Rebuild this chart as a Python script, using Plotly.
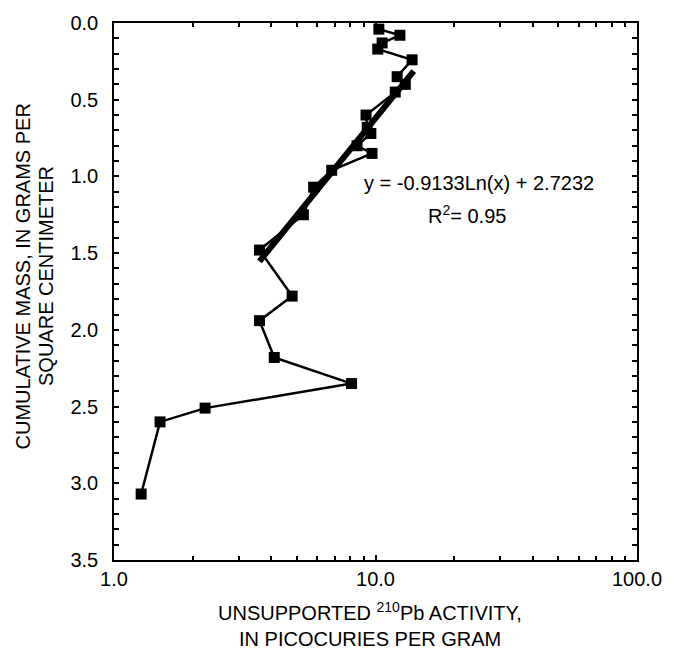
import plotly.graph_objects as go
import numpy as np

# Unsupported 210Pb activity (pCi/g) and cumulative mass (g/cm2)
activity = [10.3, 12.4, 10.6, 10.2, 13.8, 12.1, 13.0, 11.9, 9.2, 9.3, 9.6, 8.5, 9.7,
            6.8, 5.8, 5.3, 3.6, 4.8, 3.6, 4.1, 8.1, 2.23, 1.5, 1.27]
cum_mass = [0.04, 0.08, 0.13, 0.17, 0.24, 0.35, 0.40, 0.45, 0.60, 0.68, 0.72, 0.80, 0.85,
            0.96, 1.07, 1.25, 1.48, 1.78, 1.94, 2.18, 2.35, 2.51, 2.60, 3.07]

# Logarithmic trend line: y = -0.9133 ln(x) + 2.7232
trend_a = -0.9133
trend_b = 2.7232
trend_xmin, trend_xmax = 3.6, 14.0
trend_x = np.geomspace(trend_xmin, trend_xmax, 30)
trend_y = trend_a * np.log(trend_x) + trend_b

x_major = [1, 10, 100]
x_major_text = ["1.0", "10.0", "100.0"]
x_minor = [2, 3, 4, 5, 6, 7, 8, 9, 20, 30, 40, 50, 60, 70, 80, 90]
y_major = [0, 0.5, 1, 1.5, 2, 2.5, 3, 3.5]
y_major_text = ["0.0", "0.5", "1.0", "1.5", "2.0", "2.5", "3.0", "3.5"]

FONT = "Arial, Liberation Sans, sans-serif"
FS = 20

fig = go.Figure()
fig.add_trace(go.Scatter(
    x=trend_x, y=trend_y, mode="lines",
    line=dict(color="black", width=6), showlegend=False, hoverinfo="skip"))
fig.add_trace(go.Scatter(
    x=activity, y=cum_mass, mode="lines+markers",
    line=dict(color="black", width=2.5),
    marker=dict(symbol="square", size=11, color="black"),
    showlegend=False))

fig.add_annotation(x=np.log10(8.9), y=1.04, xref="x", yref="y",
                   text="y = -0.9133Ln(x) + 2.7232", showarrow=False,
                   xanchor="left", yanchor="middle",
                   font=dict(family=FONT, size=FS, color="black"))
fig.add_annotation(x=np.log10(15.6), y=1.25, xref="x", yref="y",
                   text="R<sup>2</sup>= 0.95", showarrow=False,
                   xanchor="left", yanchor="middle",
                   font=dict(family=FONT, size=FS, color="black"))

# Axis titles (two lines each)
fig.add_annotation(x=0.489, y=-0.096, xref="paper", yref="paper",
                   text="UNSUPPORTED <sup>210</sup>Pb ACTIVITY,", showarrow=False,
                   xanchor="center", yanchor="middle",
                   font=dict(family=FONT, size=FS, color="black"))
fig.add_annotation(x=0.489, y=-0.148, xref="paper", yref="paper",
                   text="IN PICOCURIES PER GRAM", showarrow=False,
                   xanchor="center", yanchor="middle",
                   font=dict(family=FONT, size=FS, color="black"))
fig.add_annotation(x=-0.174, y=0.528, xref="paper", yref="paper",
                   text="CUMULATIVE MASS, IN GRAMS PER", showarrow=False,
                   textangle=-90, xanchor="center", yanchor="middle",
                   font=dict(family=FONT, size=FS, color="black"))
fig.add_annotation(x=-0.129, y=0.528, xref="paper", yref="paper",
                   text="SQUARE CENTIMETER", showarrow=False,
                   textangle=-90, xanchor="center", yanchor="middle",
                   font=dict(family=FONT, size=FS, color="black"))

fig.update_layout(
    width=674, height=652,
    margin=dict(l=114, r=26, t=17, b=92),
    paper_bgcolor="white", plot_bgcolor="white",
    font=dict(family=FONT, size=FS, color="black"),
    showlegend=False,
)
fig.update_xaxes(
    type="log", range=[0, 2],
    tickvals=x_major, ticktext=x_major_text,
    ticks="inside", ticklen=5, tickwidth=1.5, tickcolor="black",
    minor=dict(tickvals=x_minor, ticks="inside", ticklen=4, tickwidth=1.5, tickcolor="black"),
    showline=True, linecolor="black", linewidth=1.5, mirror="ticks",
    showgrid=False, zeroline=False,
)
fig.update_yaxes(
    range=[3.5, 0], tickvals=y_major, ticktext=y_major_text,
    ticks="inside", ticklen=5, tickwidth=1.5, tickcolor="black",
    minor=dict(dtick=0.1, tick0=0, ticks="inside", ticklen=5, tickcolor="black", tickwidth=1.5),
    showline=True, linecolor="black", linewidth=1.5, mirror="ticks",
    showgrid=False, zeroline=False, ticklabelstandoff=10,
)

fig.write_html("out.html")
